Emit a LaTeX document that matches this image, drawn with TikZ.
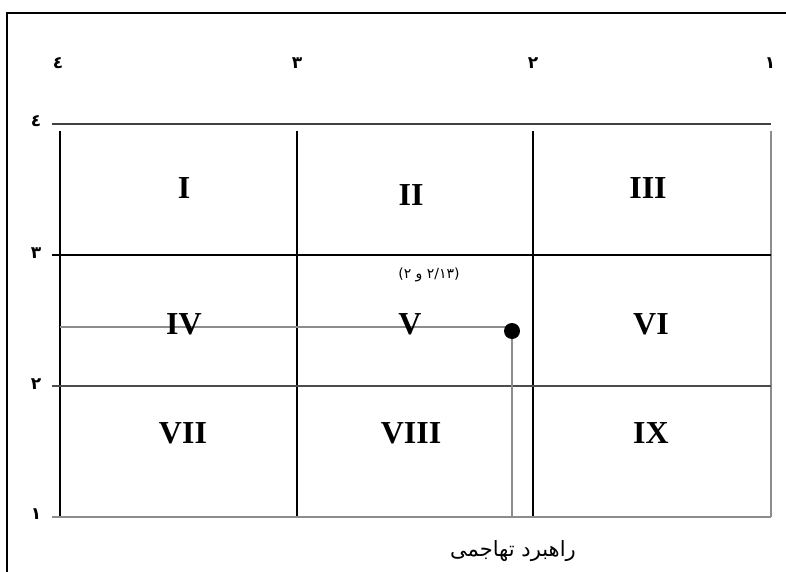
\documentclass[tikz,border=0pt]{standalone}
\usepackage{fontspec}
\setmainfont{Liberation Serif}
\newfontfamily\arabicfont[Script=Arabic]{DejaVu Sans}
\TeXXeTstate=1

\begin{document}
\begin{tikzpicture}[
  x=1pt,y=-1pt,
  frame/.style={line width=1.5pt,black},
  rule/.style={line width=1.2pt},
  cell/.style={font=\fontsize{32}{32}\selectfont\bfseries,inner sep=0pt},
  axislabel/.style={font=\arabicfont\bfseries\fontsize{17}{17}\selectfont,inner sep=0pt},
  pointlabel/.style={font=\arabicfont\fontsize{14}{14}\selectfont,inner sep=0pt},
  dot/.style={circle,fill,inner sep=0pt,minimum size=16pt},
  trace/.style={line width=1.2pt,black!45}
]
  \useasboundingbox (0,0) rectangle (786,572);
  % outer frame
  \coordinate (fa) at (7,572);
  \coordinate (fb) at (7,13);
  \coordinate (fc) at (786,13);
  \draw[frame] (fa) -- (fb) -- (fc);
  % grid corners
  \foreach \x [count=\i] in {60,297,533,771} {
    \foreach \y [count=\j] in {124,255,386,517}
      \coordinate (g\i-\j) at (\x,\y);
  }
  % columns, with ticks above the top row
  \foreach \i/\col in {1/black,2/black,3/black,4/black!45}
    \draw[rule,\col] ([yshift=-7pt]g\i-1) -- (g\i-4);
  % rows, with ticks left of the first column
  \foreach \j/\col/\w in {1/black!75/2pt,2/black/1.2pt,3/black!70/1.2pt,4/black!45/1.5pt}
    \draw[\col,line width=\w] ([xshift=-8pt]g1-\j) -- (g4-\j);
  % axis numbers
  \foreach \x/\lab [count=\i] in {58/٤,297/٣,533/٢,770/١}
    \node[axislabel] (top\i) at (\x,63) {\lab};
  \foreach \y/\lab [count=\j] in {121/٤,253/٣,384/٢,514/١}
    \node[axislabel] (side\j) at (36,\y) {\lab};
  % the point and its guide lines
  \coordinate (hstart) at (60,327);
  \coordinate (vend) at (512,517);
  \draw[trace] (hstart) -- (hstart -| vend);
  \draw[trace] (vend) -- ++(0,-186);
  \node[dot] (pt) at (512,331) {};
  \node[pointlabel] (ptlab) at (429,275) {\beginR(٢/١٣ و ٢)\endR};
  % cells
  \node[cell] (c1) at (184,188) {I};
  \node[cell] (c2) at (411,195) {II};
  \node[cell] (c3) at (648,188) {III};
  \node[cell] (c4) at (184,324) {IV};
  \node[cell] (c5) at (410,324) {V};
  \node[cell] (c6) at (651,324) {VI};
  \node[cell] (c7) at (183,433) {VII};
  \node[cell] (c8) at (411,433) {VIII};
  \node[cell] (c9) at (651,433) {IX};
  % caption below
  \node[font=\arabicfont\fontsize{21}{22}\selectfont,inner sep=0pt] (cap) at (513,551)
    {\beginR راهبرد تهاجمی\endR};
\end{tikzpicture}
\end{document}
